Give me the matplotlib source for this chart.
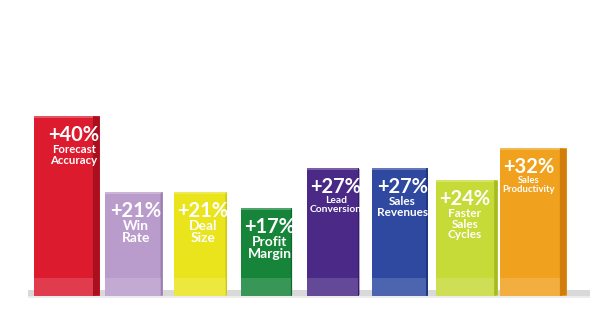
import matplotlib
matplotlib.use("Agg")
import matplotlib.pyplot as plt
from matplotlib.patches import Polygon, Rectangle
import numpy as np

# ---- data ----
values = [40, 21, 21, 17, 27, 27, 24, 32]
categories = ["Forecast\nAccuracy", "Win\nRate", "Deal\nSize", "Profit\nMargin",
              "Lead\nConversion", "Sales\nRevenues", "Faster\nSales\nCycles",
              "Sales\nProductivity"]
value_labels = ["+40%", "+21%", "+21%", "+17%", "+27%", "+27%", "+24%", "+32%"]

# ---- style ----
colors = ["#dc1b2e", "#b99ccb", "#e9e41c", "#16853a", "#4a2a86", "#2f49a0", "#c6da38", "#f0a11e"]
side_colors = ["#a8101f", "#9a7fae", "#c9c410", "#0e6a2c", "#351c68", "#1f3680", "#a6ba22", "#d07d0c"]
widths = [0.98, 0.87, 0.80, 0.76, 0.78, 0.84, 0.93, 1.0]
side_w = [0.10, 0.03, 0.02, 0.02, 0.02, 0.03, 0.05, 0.10]
text_dx = [0.15, 0.05, 0.05, 0.05, 0.05, 0.05, 0.0, -0.02]
base = -4.9
label_fs = [8.2, 10, 10, 10, 7.4, 8.5, 8.5, 6.8]
font = ["Lato", "DejaVu Sans"]

fig = plt.figure(figsize=(6, 3.36), dpi=100)
ax = fig.add_axes([0, 0, 1, 1])
ax.set_xlim(-1.006, 8.003)
ax.set_ylim(-14.9, 69.1)
ax.axis("off")

x = np.arange(len(values))

# floor shadow
ax.add_patch(Rectangle((-0.59, base - 0.1), 8.45, 1.6, color="#d9d9d9", zorder=0, lw=0))
ax.add_patch(Rectangle((-0.59, base - 0.6), 8.45, 0.6, color="#ececec", zorder=0, lw=0))

bars = ax.bar(x, [v - base for v in values], bottom=base, width=widths,
              color=colors, zorder=2, linewidth=0)

for i, b in enumerate(bars):
    x0, w = b.get_x(), b.get_width()
    top = b.get_y() + b.get_height()
    sw = side_w[i]
    # right side face
    ax.add_patch(Polygon([(x0 + w - sw, base), (x0 + w, base + 0.3), (x0 + w, top - 0.2),
                          (x0 + w - sw, top)], closed=True, color=side_colors[i], zorder=3, lw=0))
    # lighter bottom band
    ax.add_patch(Rectangle((x0, base), w - sw, 4.6, color="white", alpha=0.15, zorder=3, lw=0))
    # top highlight
    ax.add_patch(Rectangle((x0, top - 0.5), w - sw, 0.5, color="white", alpha=0.25, zorder=3, lw=0))
    cx = x0 + (w - sw) / 2 + text_dx[i]
    ax.annotate(value_labels[i], (cx, top), xytext=(0, -6), textcoords="offset points",
                ha="center", va="top", color="white", fontsize=14.5, fontweight="bold",
                family=font, zorder=4)
    ax.annotate(categories[i], (cx, top), xytext=(0, -20), textcoords="offset points",
                ha="center", va="top", color="white", fontsize=label_fs[i], fontweight="bold",
                family=font, linespacing=0.95, zorder=4)

fig.savefig("out.png", dpi=100, facecolor="white")
